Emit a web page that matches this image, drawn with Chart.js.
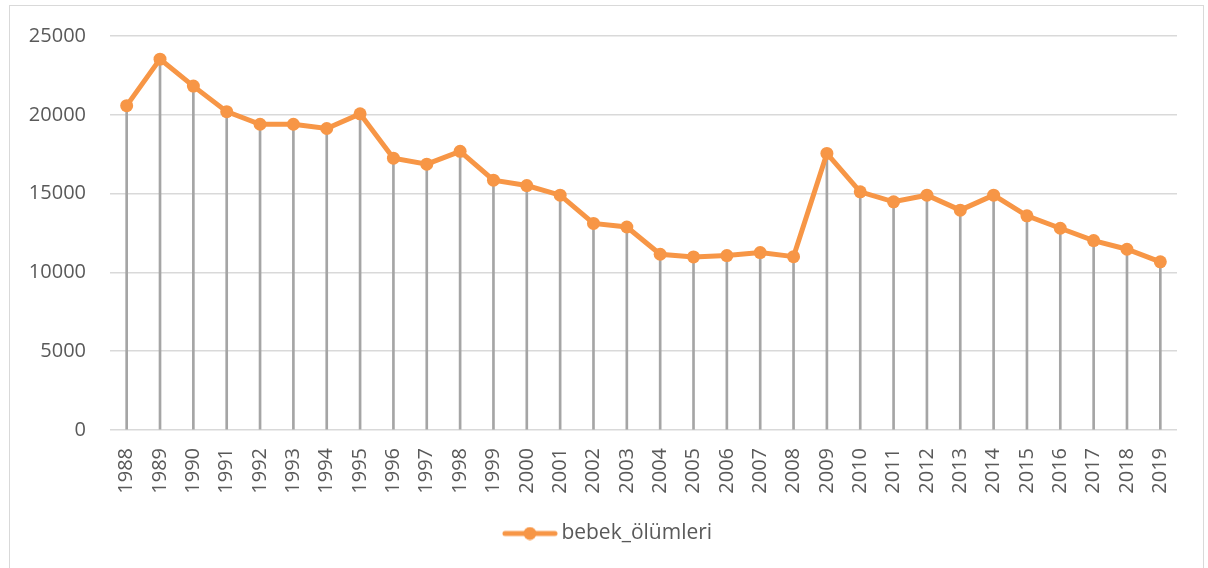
<!DOCTYPE html>
<html>
<head>
<meta charset="utf-8">
<script src="https://cdn.jsdelivr.net/npm/chart.js@4"></script>
<style>
  html, body { margin: 0; padding: 0; background: #fff; overflow: hidden; }
  #wrap { position: absolute; left: 0; top: 0; width: 1208px; height: 568px; }
  #frame { position: absolute; left: 9px; top: 5px; width: 1195px; height: 600px; border: 1px solid #d9d9d9; box-sizing: border-box; }
</style>
</head>
<body>
<div id="frame"></div>
<div id="wrap"><canvas id="chart" width="1208" height="568"></canvas></div>
<script>
// tick labels along the x axis
const years = ['1988', '1989', '1990', '1991', '1992', '1993', '1994', '1995',
  '1996', '1997', '1998', '1999', '2000', '2001', '2002', '2003',
  '2004', '2005', '2006', '2007', '2008', '2009', '2010', '2011',
  '2012', '2013', '2014', '2015', '2016', '2017', '2018', '2019'];

// infant deaths per year
const bebekOlumleri = [20580, 23530, 21820, 20200, 19400, 19400, 19130, 20060,
  17250, 16870, 17680, 15850, 15510, 14900, 13110, 12880,
  11150, 10980, 11070, 11260, 11000, 17550, 15110, 14480,
  14900, 13950, 14900, 13590, 12800, 12020, 11470, 10670];

const seriesName = 'bebek_ölümleri';
const orange = '#f79646';
const font = '"Open Sans", sans-serif';

// legend marker: a short line with a dot in the middle
function legendMarker() {
  const c = document.createElement('canvas');
  c.width = 56; c.height = 14;
  const g = c.getContext('2d');
  g.strokeStyle = orange;
  g.lineWidth = 5;
  g.lineCap = 'round';
  g.beginPath(); g.moveTo(3, 7); g.lineTo(53, 7); g.stroke();
  g.fillStyle = orange;
  g.beginPath(); g.arc(28, 7, 6.5, 0, Math.PI * 2); g.fill();
  return c;
}

// the legend sits centred on the whole frame, not just the plot width
const nudgeLegend = {
  id: 'nudgeLegend',
  afterLayout(chart) {
    const lg = chart.legend;
    if (!lg) return;
    lg.left += 22;
    lg.right += 22;
  }
};

new Chart(document.getElementById('chart'), {
  data: {
    labels: years,
    datasets: [
      {
        type: 'line',
        label: seriesName,
        data: bebekOlumleri,
        borderColor: orange,
        backgroundColor: orange,
        borderWidth: 5,
        pointRadius: 6.5,
        pointBorderWidth: 0,
        pointBackgroundColor: orange,
        tension: 0,
        order: 0
      },
      {
        // drop lines from each point down to the axis
        type: 'bar',
        label: 'drop',
        data: bebekOlumleri,
        backgroundColor: '#a5a5a5',
        barThickness: 2,
        order: 1
      }
    ]
  },
  plugins: [nudgeLegend],
  options: {
    responsive: false,
    animation: false,
    layout: { padding: { left: 0, right: 31, top: 34, bottom: 14 } },
    plugins: {
      tooltip: { enabled: false },
      legend: {
        position: 'bottom',
        labels: {
          filter: (item) => item.text === seriesName,
          usePointStyle: true,
          pointStyle: legendMarker(),
          pointStyleWidth: 42,
          padding: 10,
          color: '#595959',
          font: { family: font, size: 21 }
        }
      }
    },
    scales: {
      x: {
        offset: true,
        grid: { display: false },
        border: { display: false },
        ticks: {
          autoSkip: false,
          minRotation: 90,
          maxRotation: 90,
          padding: 10,
          color: '#595959',
          font: { family: font, size: 20 }
        },
        afterFit: (s) => { s.height = 83; }
      },
      y: {
        min: 0,
        max: 25000,
        border: { display: false },
        grid: { color: '#d9d9d9', lineWidth: 1.5, drawTicks: false },
        ticks: {
          stepSize: 5000,
          padding: 24,
          color: '#595959',
          font: { family: font, size: 20 },
          callback: (v) => String(v)
        },
        afterFit: (s) => { s.width = 110; }
      }
    }
  }
});
</script>
</body>
</html>
